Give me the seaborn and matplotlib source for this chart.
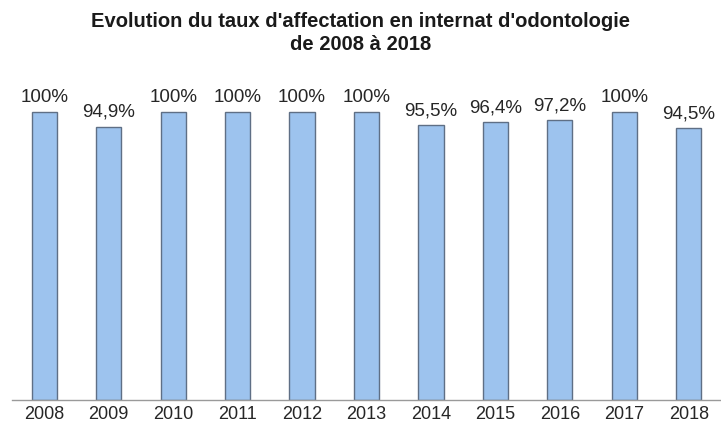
import matplotlib
matplotlib.use("Agg")
import matplotlib.pyplot as plt
import seaborn as sns
import pandas as pd
import numpy as np

# Données
annees = ["2008", "2009", "2010", "2011", "2012", "2013", "2014", "2015", "2016", "2017", "2018"]
taux = [100, 94.9, 100, 100, 100, 100, 95.5, 96.4, 97.2, 100, 94.5]
etiquettes = ["100%", "94,9%", "100%", "100%", "100%", "100%", "95,5%", "96,4%", "97,2%", "100%", "94,5%"]

sns.set_style("white")
plt.rcParams['font.family'] = ['Liberation Sans', 'DejaVu Sans']

df = pd.DataFrame({"Annee": annees, "Taux": taux})

fig = plt.figure(figsize=(7.21, 4.32), dpi=100)
ax = fig.add_axes([12 / 721, 32 / 432, 709 / 721, 1 - (32 + 83) / 432])

sns.barplot(data=df, x="Annee", y="Taux", color="#9DC3EE", width=0.39,
            edgecolor="#5f6f85", linewidth=1.0, saturation=1, ax=ax)

# Étiquettes au-dessus des barres
ax.bar_label(ax.containers[0], labels=etiquettes, padding=4, fontsize=13.5, color="#262626")

ax.set_xlim(-0.5, len(annees) - 0.5)
ax.set_ylim(0, 110)
ax.set_xlabel("")
ax.set_ylabel("")
ax.set_yticks([])

# Petites graduations entre les catégories
ax.set_xticks(np.arange(-0.5, len(annees), 1), minor=True)
ax.tick_params(axis="x", which="major", length=0, labelsize=13, labelcolor="#262626", pad=4)
ax.tick_params(axis="x", which="minor", length=5, width=1, color="#9a9a9a", direction="out")

for s in ["top", "right", "left"]:
    ax.spines[s].set_visible(False)
ax.spines["bottom"].set_color("#9a9a9a")
ax.spines["bottom"].set_linewidth(1)

fig.suptitle("Evolution du taux d'affectation en internat d'odontologie\nde 2008 à 2018",
             x=0.5, y=0.972, fontsize=14.5, fontweight="bold", color="#1a1a1a", linespacing=1.25)

fig.savefig("out.png", dpi=100)
